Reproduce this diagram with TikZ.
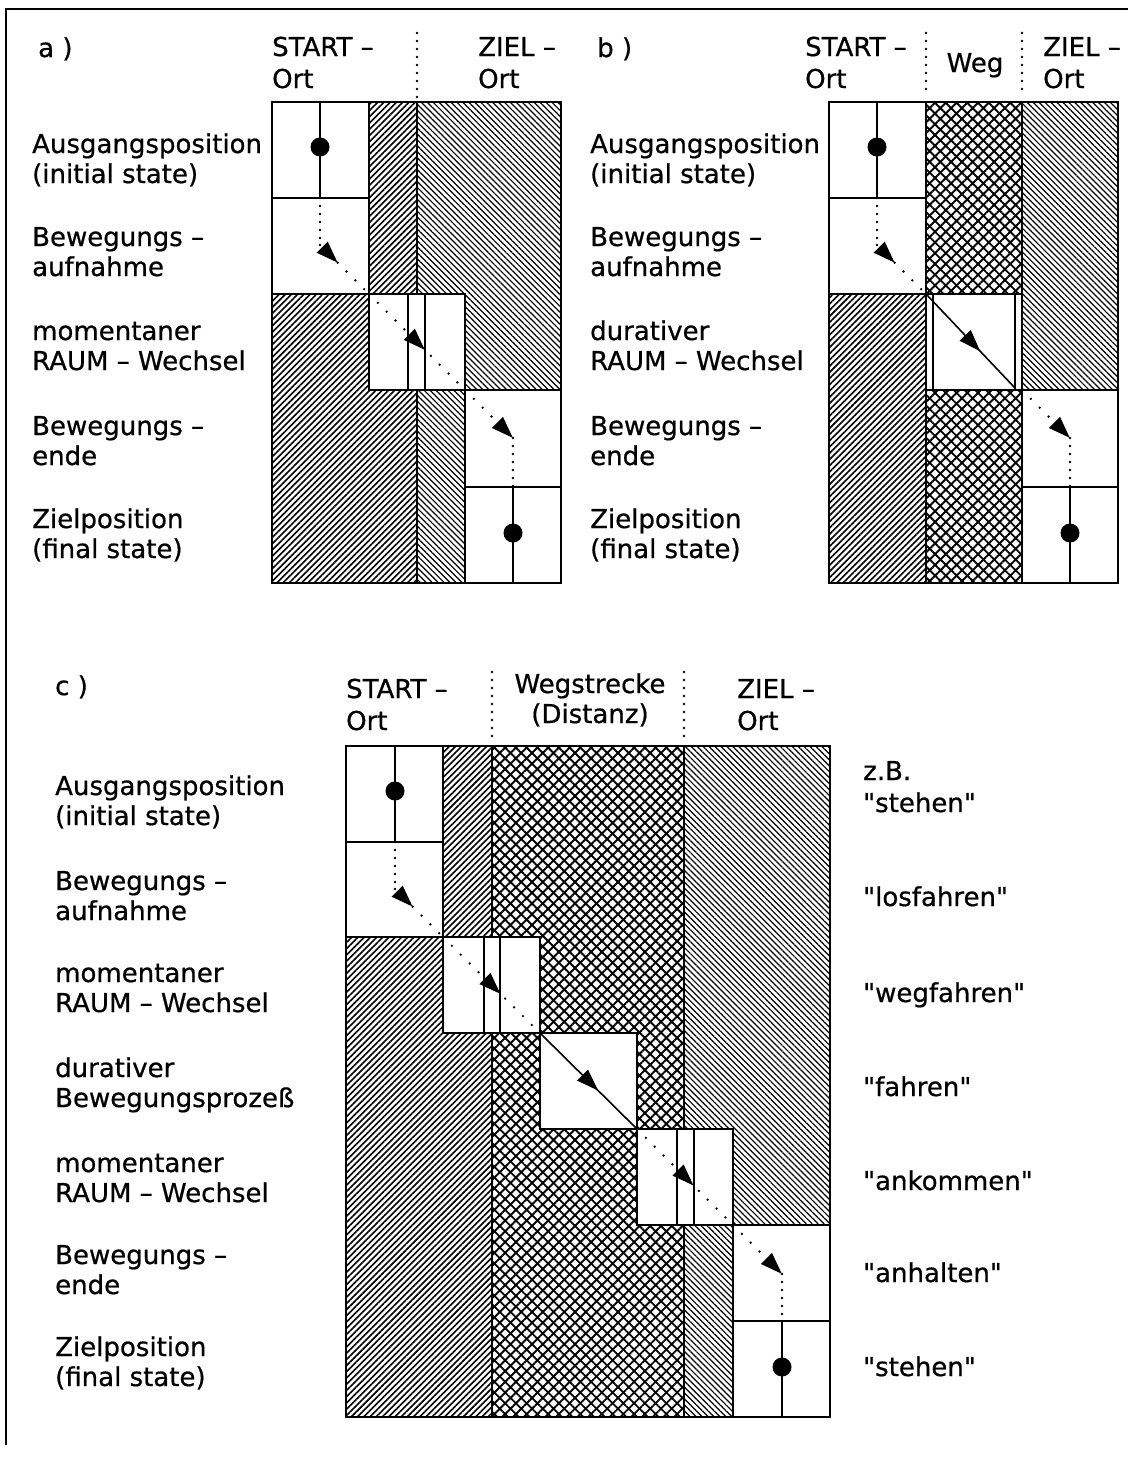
\documentclass[tikz,border=0pt]{standalone}
\usepackage{fontspec}
\setmainfont{DejaVu Sans}[Ligatures=TeXOff,FakeBold=0.7]
\usetikzlibrary{arrows.meta, patterns.meta, decorations.markings}

\begin{document}
\begin{tikzpicture}[x=1pt,y=-1pt,
  font=\fontsize{26}{30}\selectfont,
  fwd/.style={pattern={Lines[angle=45,distance=4.4pt,line width=1.6pt]}},
  bwd/.style={pattern={Lines[angle=-45,distance=4.2pt,line width=1.2pt]}},
  cross/.style={pattern={Lines[angle=45,distance=7.6pt,line width=1.9pt]},
    postaction={pattern={Lines[angle=-45,distance=7.6pt,line width=1.9pt]}}},
  cell/.style={draw,fill=white,line width=1.6pt},
  rim/.style={line width=1.8pt},
  vdots/.style={line width=2.6pt,dash pattern=on 0pt off 8pt,line cap=round},
  ddots/.style={line width=2.6pt,dash pattern=on 0pt off 12.5pt,line cap=round},
  tipat/.style={postaction={decorate,decoration={markings,
    mark=at position #1 with {\arrow{Triangle[length=22pt,width=15pt]}}}}},
  lbl/.style={anchor=base west,align=left,inner sep=0pt},
  ball/.style={circle,fill,inner sep=0pt,minimum size=19pt}]
\useasboundingbox (0,0) rectangle (1128,1457);
\draw[line width=1.2pt] (6,1445) -- (6,9) -- (1128,9);

% a)
\fill[fwd] (272,102) rectangle (417,583);
\fill[bwd] (417,102) rectangle (561,583);
\draw[rim] (272,102) rectangle (561,583) (417,102) -- (417,583);
\draw[cell] (272,102) rectangle (369,198);
\draw[cell] (272,198) rectangle (369,294);
\draw[cell] (369,294) rectangle (465,390);
\draw[cell] (465,390) rectangle (561,487);
\draw[cell] (465,487) rectangle (561,583);
\draw[rim] (408,294) -- (408,390) (425,294) -- (425,390);
\draw[rim] (320,102) -- (320,198) (513,487) -- (513,583);
\node[ball] (aS) at (320,147) {};
\node[ball] (aZ) at (513,533) {};
\draw[vdots] (320,198) -- (320,245);
\draw[ddots,tipat=25pt] (320,245) -- (369,294);
\draw[ddots,tipat=79pt] (369,294) -- (465,390);
\draw[ddots,tipat=0.999] (465,390) -- (513,438);
\draw[vdots] (513,438) -- (513,487);
\draw[vdots] (417,33) -- (417,98);
\node[lbl] (aT) at (38,57) {a )};
\node[lbl] (aStart) at (272,88) {START –\\[2pt]Ort};
\node[lbl] (aZiel) at (478,88) {ZIEL –\\[2pt]Ort};
\node[lbl] (a1) at (32,183) {Ausgangsposition\\(initial state)};
\node[lbl] (a2) at (32,276) {Bewegungs –\\aufnahme};
\node[lbl] (a3) at (32,370) {momentaner\\RAUM – Wechsel};
\node[lbl] (a4) at (32,465) {Bewegungs –\\ende};
\node[lbl] (a5) at (32,558) {Zielposition\\(final state)};

% b)
\fill[fwd] (829,102) rectangle (926,583);
\fill[cross] (926,102) rectangle (1022,583);
\fill[bwd] (1022,102) rectangle (1118,583);
\draw[rim] (829,102) rectangle (1118,583) (926,102) -- (926,583) (1022,102) -- (1022,583);
\draw[cell] (829,102) rectangle (926,198);
\draw[cell] (829,198) rectangle (926,294);
\draw[cell] (926,294) rectangle (1022,390);
\draw[cell] (1022,390) rectangle (1118,487);
\draw[cell] (1022,487) rectangle (1118,583);
\draw[rim] (933,294) -- (933,390) (1015,294) -- (1015,390);
\draw[rim] (877,102) -- (877,198) (1070,487) -- (1070,583);
\node[ball] (bS) at (877,147) {};
\node[ball] (bZ) at (1070,533) {};
\draw[vdots] (877,198) -- (877,245);
\draw[ddots,tipat=25pt] (877,245) -- (926,294);
\draw[line width=1.6pt,tipat=0.61] (926,294) -- (1015,388);
\draw[ddots,tipat=0.999] (1022,390) -- (1070,438);
\draw[vdots] (1070,438) -- (1070,487);
\draw[vdots] (926,33) -- (926,96) (1022,33) -- (1022,96);
\node[lbl] (bT) at (597,57) {b )};
\node[lbl] (bStart) at (805,88) {START –\\[2pt]Ort};
\node[anchor=base,inner sep=0pt] (bWeg) at (975,72) {Weg};
\node[lbl] (bZiel) at (1043,88) {ZIEL –\\[2pt]Ort};
\node[lbl] (b1) at (590,183) {Ausgangsposition\\(initial state)};
\node[lbl] (b2) at (590,276) {Bewegungs –\\aufnahme};
\node[lbl] (b3) at (590,370) {durativer\\RAUM – Wechsel};
\node[lbl] (b4) at (590,465) {Bewegungs –\\ende};
\node[lbl] (b5) at (590,558) {Zielposition\\(final state)};

% c)
\fill[fwd] (346,746) rectangle (492,1417);
\fill[cross] (492,746) rectangle (684,1417);
\fill[bwd] (684,746) rectangle (830,1417);
\draw[rim] (346,746) rectangle (830,1417) (492,746) -- (492,1417) (684,746) -- (684,1417);
\draw[cell] (346,746) rectangle (443,842);
\draw[cell] (346,842) rectangle (443,937);
\draw[cell] (443,937) rectangle (540,1033);
\draw[cell] (540,1033) rectangle (637,1129);
\draw[cell] (637,1129) rectangle (733,1225);
\draw[cell] (733,1225) rectangle (830,1321);
\draw[cell] (733,1321) rectangle (830,1417);
\draw[rim] (484,937) -- (484,1033) (500,937) -- (500,1033);
\draw[rim] (677,1129) -- (677,1225) (694,1129) -- (694,1225);
\draw[rim] (395,746) -- (395,842) (782,1321) -- (782,1417);
\node[ball] (cS) at (395,791) {};
\node[ball] (cZ) at (782,1367) {};
\draw[vdots] (395,842) -- (395,889);
\draw[ddots,tipat=25pt] (395,889) -- (443,937);
\draw[ddots,tipat=81pt] (443,937) -- (540,1033);
\draw[line width=1.6pt,tipat=0.6] (540,1033) -- (637,1129);
\draw[ddots,tipat=80pt] (637,1129) -- (733,1225);
\draw[ddots,tipat=0.999] (733,1225) -- (782,1274);
\draw[vdots] (782,1274) -- (782,1321);
\draw[vdots] (492,672) -- (492,736) (684,672) -- (684,736);
\node[lbl] (cT) at (55,695) {c )};
\node[lbl] (cStart) at (346,730) {START –\\[2pt]Ort};
\node[anchor=base,align=center,inner sep=0pt] (cWeg) at (590,723) {Wegstrecke\\(Distanz)};
\node[lbl] (cZiel) at (737,730) {ZIEL –\\[2pt]Ort};
\node[lbl] (c1) at (55,825) {Ausgangsposition\\(initial state)};
\node[lbl] (c2) at (55,920) {Bewegungs –\\aufnahme};
\node[lbl] (c3) at (55,1012) {momentaner\\RAUM – Wechsel};
\node[lbl] (c4) at (55,1107) {durativer\\Bewegungsprozeß};
\node[lbl] (c5) at (55,1202) {momentaner\\RAUM – Wechsel};
\node[lbl] (c6) at (55,1294) {Bewegungs –\\ende};
\node[lbl] (c7) at (55,1386) {Zielposition\\(final state)};
\node[lbl] (r1) at (863,812) {z.B.\\[2pt]"stehen"};
\node[lbl] (r2) at (863,906) {"losfahren"};
\node[lbl] (r3) at (863,1002) {"wegfahren"};
\node[lbl] (r4) at (863,1096) {"fahren"};
\node[lbl] (r5) at (863,1190) {"ankommen"};
\node[lbl] (r6) at (863,1282) {"anhalten"};
\node[lbl] (r7) at (863,1376) {"stehen"};
\end{tikzpicture}
\end{document}
